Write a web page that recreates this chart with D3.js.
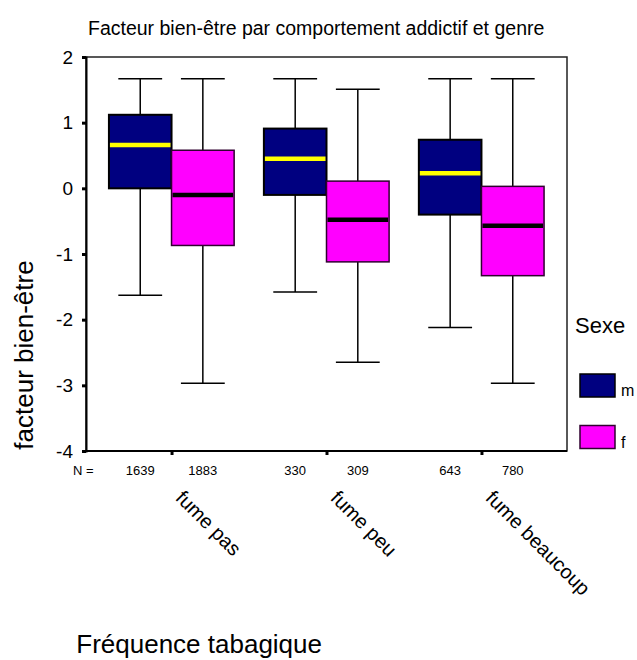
<!DOCTYPE html>
<html>
<head>
<meta charset="utf-8">
<script src="https://cdn.jsdelivr.net/npm/d3@7"></script>
<style>
  html, body { margin: 0; padding: 0; background: #fff; }
  text { font-family: "Liberation Sans", Arial, sans-serif; fill: #000; }
</style>
</head>
<body>
<svg id="chart" width="637" height="660"></svg>
<script>
// Smoking frequency groups and sexes
const categories = ["fume pas", "fume peu", "fume beaucoup"];
const sexes = ["m", "f"];
const sexColors = ["#000080", "#ff00ff"];
const medianColors = ["#ffff00", "#000000"];

// Five-number summaries of the well-being factor, per group (m, f)
const whiskerLow  = [[-1.63, -2.97], [-1.58, -2.65], [-2.12, -2.97]];
const q1          = [[ 0.00, -0.87], [-0.10, -1.12], [-0.40, -1.33]];
const medians     = [[ 0.66, -0.10], [ 0.45, -0.48], [ 0.23, -0.57]];
const q3          = [[ 1.12,  0.58], [ 0.91,  0.11], [ 0.74,  0.03]];
const whiskerHigh = [[ 1.67,  1.67], [ 1.67,  1.51], [ 1.67,  1.67]];
const counts      = [[1639, 1883], [330, 309], [643, 780]];

const yTicks = [2, 1, 0, -1, -2, -3, -4];

const svg = d3.select("#chart");
const plot = { left: 86, right: 567, top: 57, bottom: 451 };

const y = d3.scaleLinear().domain([-4, 2]).range([plot.bottom, plot.top]);
const x = d3.scalePoint().domain(categories).range([plot.left, plot.right]).padding(0.552);
const boxW = x.step() * 0.404;
const sx = d3.scaleBand().domain(sexes).range([-boxW, boxW]).padding(0);
const capW = boxW * 0.7;

// Title
svg.append("text").attr("x", 88).attr("y", 35)
  .style("font-size", "19.5px").text("Facteur bien-être par comportement addictif et genre");

// Plot frame
svg.append("rect").attr("x", plot.left).attr("y", plot.top)
  .attr("width", plot.right - plot.left).attr("height", plot.bottom - plot.top)
  .attr("fill", "none").attr("stroke", "#222").attr("stroke-width", 1.5);

// Y axis
const yAxis = d3.axisLeft(y).tickValues(yTicks).tickSize(4).tickPadding(9).tickFormat(d => String(d));
const gy = svg.append("g").attr("transform", `translate(${plot.left},0)`).call(yAxis);
gy.select(".domain").attr("stroke", "#000").attr("stroke-width", 2);
gy.selectAll(".tick line").attr("stroke", "#000").attr("stroke-width", 3);
gy.selectAll(".tick text").style("font-size", "19px").style("font-family", "Liberation Sans, Arial, sans-serif");

// X axis: ticks at group centres, no labels
const xAxis = d3.axisBottom(x).tickSize(4).tickFormat("");
const gx = svg.append("g").attr("transform", `translate(0,${plot.bottom})`).call(xAxis);
gx.select(".domain").attr("stroke", "#000").attr("stroke-width", 2).attr("d", `M${plot.left},0H${plot.right}`);
gx.selectAll(".tick line").attr("stroke", "#000").attr("stroke-width", 3);

// Boxes
const groups = svg.append("g").selectAll("g.cat").data(categories).join("g")
  .attr("class", "cat").attr("transform", d => `translate(${x(d)},0)`);

groups.each(function(cat, i) {
  const g = d3.select(this);
  sexes.forEach((s, j) => {
    const cx = sx(s) + sx.bandwidth() / 2;
    const left = sx(s);
    // whiskers
    g.append("line").attr("x1", cx).attr("x2", cx)
      .attr("y1", y(whiskerHigh[i][j])).attr("y2", y(q3[i][j]))
      .attr("stroke", "#000").attr("stroke-width", 1.5);
    g.append("line").attr("x1", cx).attr("x2", cx)
      .attr("y1", y(q1[i][j])).attr("y2", y(whiskerLow[i][j]))
      .attr("stroke", "#000").attr("stroke-width", 1.5);
    [whiskerHigh[i][j], whiskerLow[i][j]].forEach(v => {
      g.append("line").attr("x1", cx - capW / 2).attr("x2", cx + capW / 2)
        .attr("y1", y(v)).attr("y2", y(v)).attr("stroke", "#000").attr("stroke-width", 1.5);
    });
    // box
    g.append("rect").attr("x", left).attr("width", sx.bandwidth())
      .attr("y", y(q3[i][j])).attr("height", y(q1[i][j]) - y(q3[i][j]))
      .attr("fill", sexColors[j]).attr("stroke", j === 0 ? "#000" : "#300030")
      .attr("stroke-width", j === 0 ? 2 : 1.5);
    // median
    g.append("line").attr("x1", left + 1).attr("x2", left + sx.bandwidth() - 1)
      .attr("y1", y(medians[i][j])).attr("y2", y(medians[i][j]))
      .attr("stroke", medianColors[j]).attr("stroke-width", 4.5);
    // case count
    g.append("text").attr("x", cx).attr("y", 475).attr("text-anchor", "middle")
      .style("font-size", "13px").text(counts[i][j]);
  });
  // group label
  g.append("text").attr("transform", "translate(3,499) rotate(45)")
    .style("font-size", "20px").text(cat);
});

svg.append("text").attr("x", 73).attr("y", 475).style("font-size", "13px").text("N =");

// Axis titles
svg.append("text").attr("transform", "translate(33,355) rotate(-90)")
  .attr("text-anchor", "middle").style("font-size", "26px").text("facteur bien-être");
svg.append("text").attr("x", 322).attr("y", 653).attr("text-anchor", "end")
  .style("font-size", "26px").text("Fréquence tabagique");

// Legend
const legend = svg.append("g");
legend.append("text").attr("x", 575).attr("y", 333).style("font-size", "22px").text("Sexe");
const items = legend.selectAll("g.item").data(sexes).join("g").attr("class", "item")
  .attr("transform", (d, j) => `translate(580,${374 + j * 51.5})`);
items.append("rect").attr("width", 35).attr("height", 23)
  .attr("fill", (d, j) => sexColors[j]).attr("stroke", (d, j) => j === 0 ? "#000" : "#300030").attr("stroke-width", 1.5);
items.append("text").attr("x", 41).attr("y", 22).style("font-size", "16px").text(d => d);
</script>
</body>
</html>
